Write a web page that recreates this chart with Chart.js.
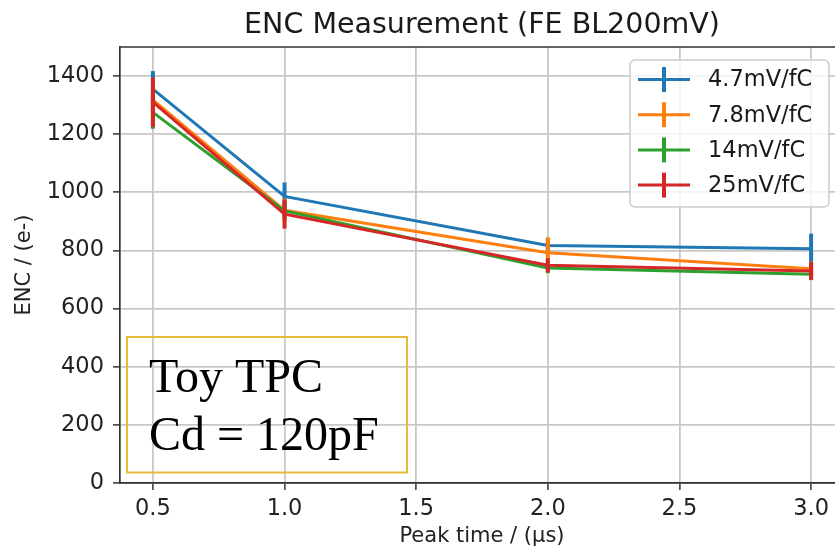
<!DOCTYPE html>
<html>
<head>
<meta charset="utf-8">
<script src="https://cdn.jsdelivr.net/npm/chart.js@4"></script>
<style>
  body { margin: 0; background: #fff; }
  #wrap { width: 835px; height: 549px; overflow: hidden; position: relative; }
  #box { width: 848px; height: 549px; position: relative; }
</style>
</head>
<body>
<div id="wrap"><div id="box"><canvas id="myChart"></canvas></div></div>
<script>
// values
var peakTimes = [0.5, 1.0, 2.0, 3.0];
var xTicks = [0.5, 1.0, 1.5, 2.0, 2.5, 3.0];
var yTicks = [0, 200, 400, 600, 800, 1000, 1200, 1400];
var seriesLabels = ['4.7mV/fC', '7.8mV/fC', '14mV/fC', '25mV/fC'];
var seriesColors = ['#1f77b4', '#ff7f0e', '#2ca02c', '#d62728'];

var enc47 = [1355, 986, 817, 806];
var err47 = [62, 48, 25, 52];
var enc78 = [1318, 938, 792, 737];
var err78 = [60, 40, 53, 25];
var enc14 = [1275, 936, 740, 718];
var err14 = [56, 30, 18, 15];
var enc25 = [1310, 925, 749, 729];
var err25 = [85, 50, 24, 31];

var encValues = [enc47, enc78, enc14, enc25];
var encErrors = [err47, err78, err14, err25];

var FONT = "'DejaVu Sans', sans-serif";

function points(vals) {
    return peakTimes.map(function (t, i) { return {x: t, y: vals[i]}; });
}

var errorBars = {
    id: 'errorBars',
    afterDatasetDraw: function (chart, args) {
        var i = args.index;
        var errs = encErrors[i];
        var vals = encValues[i];
        var y = chart.scales.y;
        var ctx = chart.ctx;
        ctx.save();
        ctx.strokeStyle = seriesColors[i];
        ctx.lineWidth = 4;
        args.meta.data.forEach(function (p, j) {
            ctx.beginPath();
            ctx.moveTo(p.x, y.getPixelForValue(vals[j] + errs[j]));
            ctx.lineTo(p.x, y.getPixelForValue(vals[j] - errs[j]));
            ctx.stroke();
        });
        ctx.restore();
    }
};

var decorations = {
    id: 'decorations',
    afterDraw: function (chart) {
        var ctx = chart.ctx;
        var a = chart.chartArea;
        ctx.save();
        // top spine
        ctx.strokeStyle = '#333';
        ctx.lineWidth = 1.7;
        ctx.beginPath();
        ctx.moveTo(a.left, a.top);
        ctx.lineTo(a.right, a.top);
        ctx.stroke();

        // title
        ctx.fillStyle = '#1a1a1a';
        ctx.font = '28.5px ' + FONT;
        ctx.textAlign = 'center';
        ctx.textBaseline = 'middle';
        ctx.fillText('ENC Measurement (FE BL200mV)', (a.left + a.right) / 2, 26);

        // legend
        var lx = 630, ly = 60, lw = 199, lh = 147;
        ctx.beginPath();
        ctx.roundRect(lx, ly, lw, lh, 5);
        ctx.fillStyle = 'rgba(255,255,255,0.8)';
        ctx.fill();
        ctx.strokeStyle = '#cccccc';
        ctx.lineWidth = 1.5;
        ctx.stroke();
        ctx.font = '22.5px ' + FONT;
        ctx.textAlign = 'left';
        ctx.textBaseline = 'middle';
        seriesLabels.forEach(function (lab, i) {
            var cy = 79.5 + i * 35.2;
            ctx.strokeStyle = seriesColors[i];
            ctx.lineWidth = 3;
            ctx.beginPath();
            ctx.moveTo(638, cy);
            ctx.lineTo(690, cy);
            ctx.stroke();
            ctx.lineWidth = 4;
            ctx.beginPath();
            ctx.moveTo(664, cy - 12.5);
            ctx.lineTo(664, cy + 12.5);
            ctx.stroke();
            ctx.fillStyle = '#1a1a1a';
            ctx.fillText(lab, 708, cy + 1);
        });

        // annotation box
        ctx.strokeStyle = '#e6bb3a';
        ctx.lineWidth = 2;
        ctx.strokeRect(127, 337, 280, 135.5);
        ctx.fillStyle = '#000';
        ctx.font = '48px "Liberation Serif", serif';
        ctx.textBaseline = 'alphabetic';
        ctx.fillText('Toy TPC', 149, 392);
        ctx.fillText('Cd = 120pF', 149, 450);
        ctx.restore();
    }
};

var datasets = seriesLabels.map(function (lab, i) {
    return {
        label: lab,
        data: points(encValues[i]),
        borderColor: seriesColors[i],
        backgroundColor: seriesColors[i],
        borderWidth: 3,
        pointRadius: 0,
        tension: 0,
        order: 4 - i
    };
});

var grid = {color: '#c8c8c8', lineWidth: 1.8, tickColor: '#333', tickLength: 7, tickWidth: 1.5};

var chart = new Chart(document.getElementById('myChart'), {
    type: 'line',
    data: {datasets: datasets},
    options: {
        responsive: true,
        maintainAspectRatio: false,
        animation: false,
        layout: {padding: {left: 0, right: 4, top: 47, bottom: 0}},
        plugins: {
            legend: {display: false},
            title: {display: false},
            tooltip: {enabled: false}
        },
        scales: {
            x: {
                type: 'linear',
                min: 0.375,
                max: 3.125,
                afterBuildTicks: function (s) { s.ticks = xTicks.map(function (v) { return {value: v}; }); },
                afterFit: function (s) { s.height = 66; },
                ticks: {
                    font: {family: FONT, size: 22.5},
                    color: '#222',
                    padding: 6,
                    maxRotation: 0,
                    callback: function (v) { return v.toFixed(1); }
                },
                grid: grid,
                border: {color: '#333', width: 1.7},
                title: {
                    display: true,
                    text: 'Peak time / (μs)',
                    font: {family: FONT, size: 21},
                    color: '#222',
                    padding: {top: 0, bottom: 0}
                }
            },
            y: {
                min: 0,
                max: 1500,
                afterBuildTicks: function (s) { s.ticks = yTicks.map(function (v) { return {value: v}; }); },
                afterFit: function (s) { s.width = 120; },
                ticks: {
                    font: {family: FONT, size: 22.5},
                    color: '#222',
                    padding: 9,
                    callback: function (v) { return String(v); }
                },
                grid: grid,
                border: {color: '#333', width: 1.7},
                title: {
                    display: true,
                    text: 'ENC / (e-)',
                    font: {family: FONT, size: 21},
                    color: '#222',
                    padding: {top: 12, bottom: 0}
                }
            }
        }
    },
    plugins: [errorBars, decorations]
});
</script>
</body>
</html>
